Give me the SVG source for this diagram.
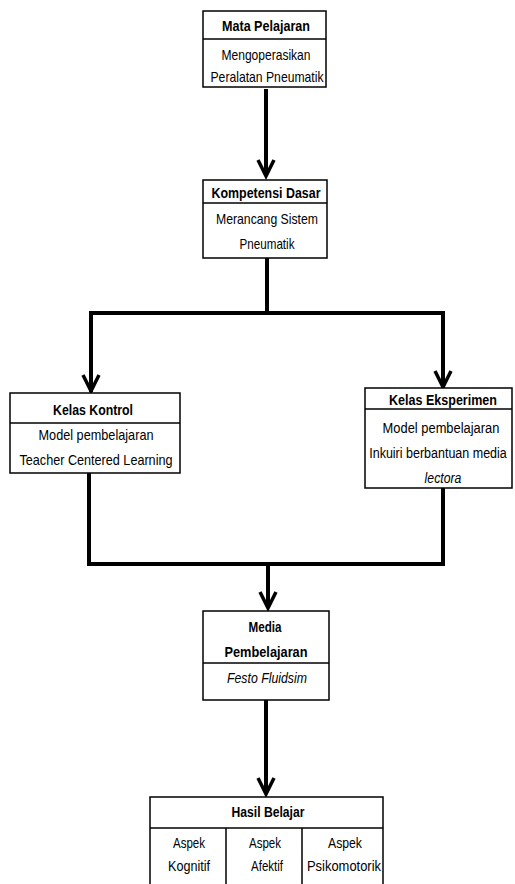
<svg xmlns="http://www.w3.org/2000/svg" width="515" height="884" viewBox="0 0 515 884">
<style>
.box{fill:#fff;stroke:#000;stroke-width:1.5}
.div{stroke:#000;stroke-width:1.5}
.t{font-family:"Liberation Sans",Arial,sans-serif;font-size:15px;text-anchor:middle;fill:#000}
.b{font-weight:bold}
.i{font-style:italic}
.c{fill:none;stroke:#000;stroke-width:4;stroke-linejoin:miter}
.h{fill:none;stroke:#000;stroke-width:3.5;stroke-linejoin:miter}
</style>
<rect width="515" height="884" fill="#fff"/>
<g id="connectors">
<line class="c" x1="266" y1="89" x2="266" y2="176"/>
<polyline class="h" points="258,160 266,176 274,160"/>
<polyline class="c" points="267,258 267,313"/>
<polyline class="c" points="91,392 91,313 443,313 443,388"/>
<polyline class="h" points="83,375 91,391 99,375"/>
<polyline class="h" points="435,371 443,387 451,371"/>
<polyline class="c" points="89,473 89,564 443,564 443,488"/>
<line class="c" x1="268" y1="564" x2="268" y2="608"/>
<polyline class="h" points="260,592 268,608 276,592"/>
<line class="c" x1="266" y1="700" x2="266" y2="794"/>
<polyline class="h" points="258,778 266,794 274,778"/>
</g>
<g id="mata-pelajaran">
<rect class="box" x="203" y="11" width="123" height="76"/>
<line class="div" x1="203" y1="39" x2="326" y2="39"/>
<text class="t b" x="266" y="31" textLength="88" lengthAdjust="spacingAndGlyphs">Mata Pelajaran</text>
<text class="t" x="266" y="60" textLength="89" lengthAdjust="spacingAndGlyphs">Mengoperasikan</text>
<text class="t" x="267" y="82" textLength="113" lengthAdjust="spacingAndGlyphs">Peralatan Pneumatik</text>
</g>
<g id="kompetensi-dasar">
<rect class="box" x="203" y="180" width="124" height="78"/>
<line class="div" x1="203" y1="203" x2="327" y2="203"/>
<text class="t b" x="266" y="198" textLength="109" lengthAdjust="spacingAndGlyphs">Kompetensi Dasar</text>
<text class="t" x="267" y="224" textLength="102" lengthAdjust="spacingAndGlyphs">Merancang Sistem</text>
<text class="t" x="267" y="249" textLength="55" lengthAdjust="spacingAndGlyphs">Pneumatik</text>
</g>
<g id="kelas-kontrol">
<rect class="box" x="10" y="393" width="170" height="80"/>
<line class="div" x1="10" y1="423" x2="180" y2="423"/>
<text class="t b" x="93" y="415" textLength="80" lengthAdjust="spacingAndGlyphs">Kelas Kontrol</text>
<text class="t" x="96" y="440" textLength="115" lengthAdjust="spacingAndGlyphs">Model pembelajaran</text>
<text class="t" x="96" y="465" textLength="153" lengthAdjust="spacingAndGlyphs">Teacher Centered Learning</text>
</g>
<g id="kelas-eksperimen">
<rect class="box" x="365" y="388" width="147" height="100"/>
<line class="div" x1="365" y1="409" x2="512" y2="409"/>
<text class="t b" transform="translate(443,405) scale(0.8,1)" x="0" y="0" textLength="135" lengthAdjust="spacingAndGlyphs">Kelas Eksperimen</text>
<text class="t" transform="translate(441,433) scale(0.8,1)" x="0" y="0" textLength="146" lengthAdjust="spacingAndGlyphs">Model pembelajaran</text>
<text class="t" transform="translate(438,458) scale(0.8,1)" x="0" y="0" textLength="172" lengthAdjust="spacingAndGlyphs">Inkuiri berbantuan media</text>
<text class="t i" transform="translate(443,483) scale(0.8,1)" x="0" y="0" textLength="46" lengthAdjust="spacingAndGlyphs">lectora</text>
</g>
<g id="media-pembelajaran">
<rect class="box" x="203" y="611" width="126" height="89"/>
<line class="div" x1="203" y1="663" x2="329" y2="663"/>
<text class="t b" x="265" y="632" textLength="33" lengthAdjust="spacingAndGlyphs">Media</text>
<text class="t b" x="266" y="657" textLength="83" lengthAdjust="spacingAndGlyphs">Pembelajaran</text>
<text class="t i" x="267" y="683" textLength="80" lengthAdjust="spacingAndGlyphs">Festo Fluidsim</text>
</g>
<g id="hasil-belajar">
<path class="box" d="M150,886 V797 H383 V886"/>
<line class="div" x1="150" y1="828" x2="383" y2="828"/>
<line class="div" x1="226" y1="828" x2="226" y2="886"/>
<line class="div" x1="302" y1="828" x2="302" y2="886"/>
<text class="t b" x="268" y="817" textLength="73" lengthAdjust="spacingAndGlyphs">Hasil Belajar</text>
<text class="t" x="189" y="848" textLength="32" lengthAdjust="spacingAndGlyphs">Aspek</text>
<text class="t" x="189" y="871" textLength="42" lengthAdjust="spacingAndGlyphs">Kognitif</text>
<text class="t" x="265" y="848" textLength="32" lengthAdjust="spacingAndGlyphs">Aspek</text>
<text class="t" x="267" y="871" textLength="32" lengthAdjust="spacingAndGlyphs">Afektif</text>
<text class="t" x="345" y="848" textLength="34" lengthAdjust="spacingAndGlyphs">Aspek</text>
<text class="t" x="344" y="871" textLength="74" lengthAdjust="spacingAndGlyphs">Psikomotorik</text>
</g>
</svg>
